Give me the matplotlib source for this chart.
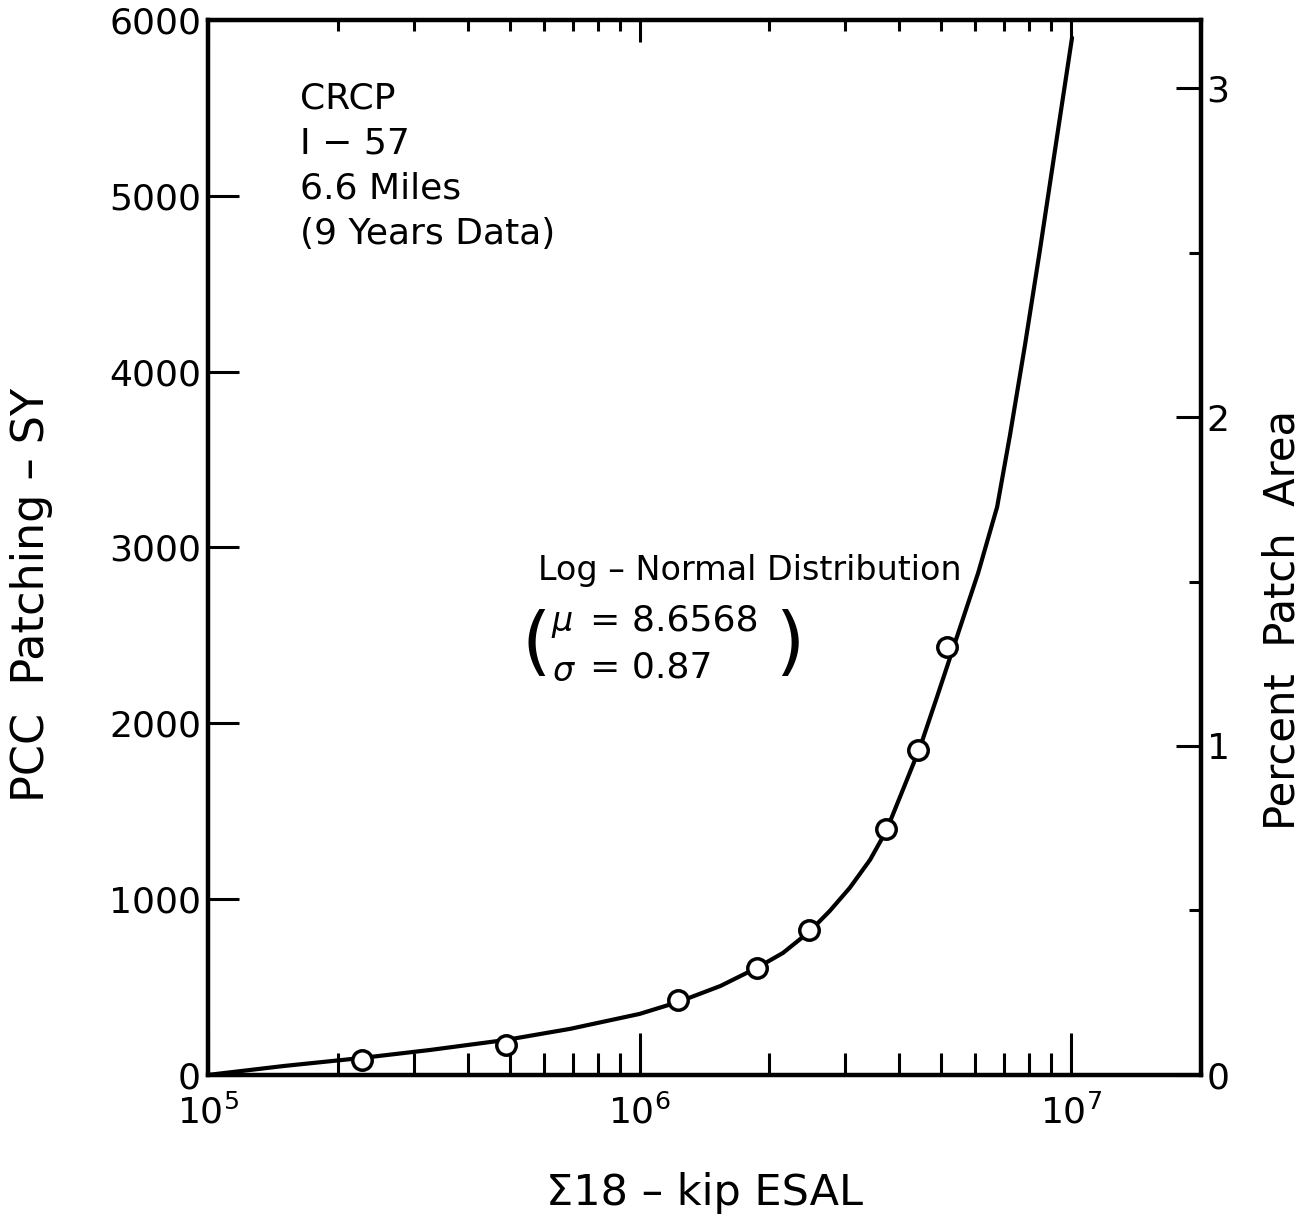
import numpy as np
import matplotlib
matplotlib.use("Agg")
import matplotlib.pyplot as plt
from matplotlib.ticker import FixedLocator, NullFormatter, LogLocator

plt.rcParams['font.family'] = ['DejaVu Sans']
plt.rcParams['mathtext.fontset'] = 'dejavusans'

# fitted log-normal curve
curve_esal = [1.0e5, 1.5e5, 2.28e5, 3.27e5, 4.9e5, 6.9e5, 1.0e6,
              1.23e6, 1.54e6, 1.87e6, 2.15e6, 2.47e6, 2.76e6, 3.07e6, 3.42e6,
              3.73e6, 4.12e6, 4.47e6, 4.89e6, 5.38e6, 6.09e6, 6.74e6,
              7.22e6, 7.82e6, 8.47e6, 9.18e6, 1.005e7]
curve_sy = [0, 51, 97, 142, 199, 262, 347,
            415, 506, 609, 694, 813, 933, 1064, 1223,
            1388, 1650, 1866, 2150, 2457, 2855, 3231,
            3641, 4152, 4693, 5262, 5899]

# observed patching
obs_esal = [2.28e5, 4.9e5, 1.23e6, 1.87e6, 2.47e6, 3.73e6, 4.42e6, 5.16e6]
obs_sy = [85, 171, 427, 609, 825, 1399, 1849, 2435]

y_ticks = [0, 1000, 2000, 3000, 4000, 5000, 6000]
pct_ticks = [0, 1, 2, 3]
pct_minor = [0.5, 1.5, 2.5]
pct_max = 3.207

fig = plt.figure(figsize=(13.13, 12.2), dpi=100)
ax = fig.add_axes([0.1584, 0.1189, 0.9147 - 0.1584, 0.9836 - 0.1189])

ax.plot(curve_esal, curve_sy, color='black', lw=3, zorder=3,
        solid_joinstyle='round', solid_capstyle='round')
ax.plot(obs_esal, obs_sy, 'o', ms=14, mfc='white', mec='black', mew=2.5, zorder=4)

ax.set_xscale('log')
ax.set_xlim(1e5, 2.0e7)
ax.set_ylim(0, 6000)
ax.set_yticks(y_ticks)
ax.set_yticklabels([str(v) for v in y_ticks])
ax.xaxis.set_major_locator(FixedLocator([1e5, 1e6, 1e7]))
ax.set_xticklabels(['$10^5$', '$10^6$', '$10^7$'])
ax.xaxis.set_minor_locator(LogLocator(base=10, subs=np.arange(2, 10)))
ax.xaxis.set_minor_formatter(NullFormatter())

for s in ax.spines.values():
    s.set_linewidth(3)

ax.tick_params(axis='y', direction='in', length=22, width=2.2, labelsize=26, pad=5, right=False)
ax.tick_params(axis='x', which='major', direction='in', length=30, width=2.2, labelsize=26, pad=14, top=False)
ax.tick_params(axis='x', which='minor', direction='in', length=16, width=2.2, top=False)

# top ticks (shorter)
axt = ax.twiny()
axt.set_xscale('log')
axt.set_xlim(ax.get_xlim())
axt.xaxis.set_major_locator(FixedLocator([1e5, 1e6, 1e7]))
axt.xaxis.set_minor_locator(LogLocator(base=10, subs=np.arange(2, 10)))
axt.xaxis.set_minor_formatter(NullFormatter())
axt.tick_params(axis='x', which='major', direction='in', length=16, width=2.2, labeltop=False)
axt.tick_params(axis='x', which='minor', direction='in', length=8, width=2.2)

# right axis: percent patch area
axr = ax.twinx()
axr.set_ylim(0, pct_max)
axr.set_yticks(pct_ticks)
axr.set_yticklabels([str(v) for v in pct_ticks])
axr.set_yticks(pct_minor, minor=True)
axr.tick_params(axis='y', which='major', direction='in', length=18, width=2.2, labelsize=26, pad=4)
axr.tick_params(axis='y', which='minor', direction='in', length=9, width=2.2)
axr.set_ylabel('Percent  Patch  Area', fontsize=30)
axr.yaxis.set_label_coords(1.061, 0.431)
for a in (axt, axr):
    for s in a.spines.values():
        s.set_linewidth(3)

ax.set_xlabel('Σ18 – kip ESAL', fontsize=31, labelpad=30)
ax.set_ylabel('PCC  Patching – SY', fontsize=32)
ax.yaxis.set_label_coords(-0.156, 0.455)

# notes
ax.text(0.093, 0.942, 'CRCP\nI − 57\n6.6 Miles\n(9 Years Data)', transform=ax.transAxes,
        fontsize=26, va='top', ha='left', linespacing=1.42)
ax.text(0.332, 0.478, 'Log – Normal Distribution', transform=ax.transAxes,
        fontsize=24, va='center', ha='left')
ax.text(0.316, 0.407, '(', transform=ax.transAxes, fontsize=54, va='center', ha='left')
ax.text(0.571, 0.407, ')', transform=ax.transAxes, fontsize=54, va='center', ha='left')
ax.text(0.345, 0.428, r'$\mu$', transform=ax.transAxes, fontsize=24, va='center', ha='left')
ax.text(0.385, 0.431, '= 8.6568', transform=ax.transAxes, fontsize=26, va='center', ha='left')
ax.text(0.346, 0.382, r'$\sigma$', transform=ax.transAxes, fontsize=24, va='center', ha='left')
ax.text(0.385, 0.386, '= 0.87', transform=ax.transAxes, fontsize=26, va='center', ha='left')

fig.savefig('out.png', dpi=100)
